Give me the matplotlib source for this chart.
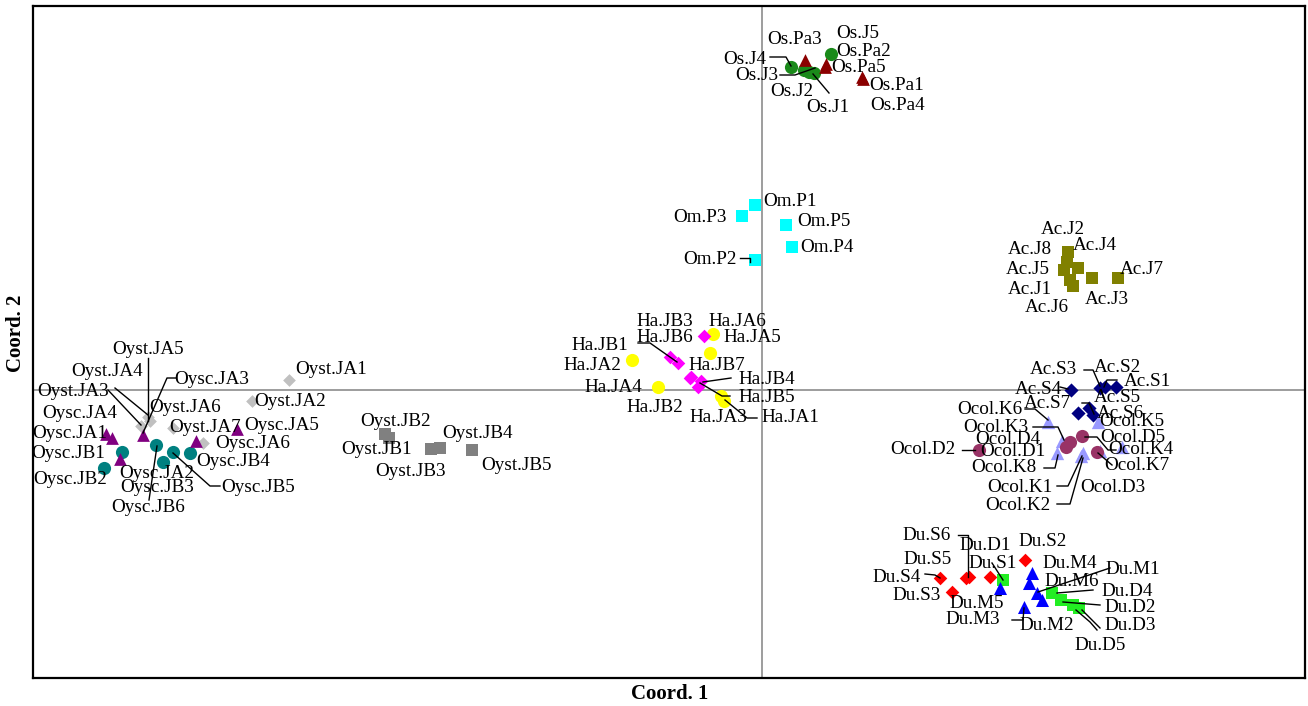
import matplotlib
matplotlib.use("Agg")
import matplotlib.pyplot as plt

# ---------------- data (Coord. 1, Coord. 2) ----------------
os_j_names = ["Os.J1", "Os.J2", "Os.J3", "Os.J4", "Os.J5"]
os_j_x = [0.52, 0.47, 0.42, 0.29, 0.69]
os_j_y = [3.17, 3.18, 3.20, 3.23, 3.36]

os_pa_names = ["Os.Pa1", "Os.Pa2", "Os.Pa3", "Os.Pa4", "Os.Pa5"]
os_pa_x = [1.00, 0.64, 0.43, 1.01, 0.63]
os_pa_y = [3.13, 3.26, 3.30, 3.11, 3.23]

om_p_names = ["Om.P1", "Om.P2", "Om.P3", "Om.P4", "Om.P5"]
om_p_x = [-0.07, -0.07, -0.20, 0.30, 0.24]
om_p_y = [1.85, 1.30, 1.74, 1.43, 1.65]

ac_j_names = ["Ac.J1", "Ac.J2", "Ac.J3", "Ac.J4", "Ac.J5", "Ac.J6", "Ac.J7", "Ac.J8"]
ac_j_x = [3.08, 3.06, 3.30, 3.16, 3.02, 3.11, 3.56, 3.05]
ac_j_y = [1.10, 1.38, 1.12, 1.22, 1.20, 1.04, 1.12, 1.28]

ha_ja_names = ["Ha.JA1", "Ha.JA2", "Ha.JA3", "Ha.JA4", "Ha.JA5", "Ha.JA6"]
ha_ja_x = [-0.38, -1.30, -0.41, -1.04, -0.52, -0.49]
ha_ja_y = [-0.11, 0.30, -0.06, 0.03, 0.37, 0.56]

ha_jb_names = ["Ha.JB1", "Ha.JB2", "Ha.JB3", "Ha.JB4", "Ha.JB5", "Ha.JB6", "Ha.JB7"]
ha_jb_x = [-0.92, -0.72, -0.58, -0.61, -0.64, -0.84, -0.71]
ha_jb_y = [0.33, 0.12, 0.54, 0.09, 0.03, 0.27, 0.13]

oyst_ja_names = ["Oyst.JA1", "Oyst.JA2", "Oyst.JA3", "Oyst.JA4", "Oyst.JA5", "Oyst.JA6", "Oyst.JA7"]
oyst_ja_x = [-4.73, -5.10, -6.21, -6.14, -6.12, -5.89, -5.59]
oyst_ja_y = [0.10, -0.11, -0.36, -0.27, -0.31, -0.38, -0.53]

oysc_ja_names = ["Oysc.JA1", "Oysc.JA2", "Oysc.JA3", "Oysc.JA4", "Oysc.JA5", "Oysc.JA6"]
oysc_ja_x = [-6.50, -6.42, -6.19, -6.56, -5.25, -5.66]
oysc_ja_y = [-0.48, -0.69, -0.45, -0.44, -0.39, -0.51]

oysc_jb_names = ["Oysc.JB1", "Oysc.JB2", "Oysc.JB3", "Oysc.JB4", "Oysc.JB5", "Oysc.JB6"]
oysc_jb_x = [-6.40, -6.58, -5.99, -5.72, -5.89, -6.06]
oysc_jb_y = [-0.62, -0.78, -0.72, -0.63, -0.62, -0.55]

oyst_jb_names = ["Oyst.JB1", "Oyst.JB2", "Oyst.JB3", "Oyst.JB4", "Oyst.JB5"]
oyst_jb_x = [-3.73, -3.77, -3.31, -3.22, -2.90]
oyst_jb_y = [-0.48, -0.44, -0.59, -0.58, -0.60]

ac_s_names = ["Ac.S1", "Ac.S2", "Ac.S3", "Ac.S4", "Ac.S5", "Ac.S6", "Ac.S7"]
ac_s_x = [3.54, 3.43, 3.38, 3.09, 3.27, 3.31, 3.16]
ac_s_y = [0.03, 0.03, 0.02, 0.00, -0.18, -0.25, -0.23]

ocol_k_names = ["Ocol.K1", "Ocol.K2", "Ocol.K3", "Ocol.K4", "Ocol.K5", "Ocol.K6", "Ocol.K7", "Ocol.K8"]
ocol_k_x = [3.21, 3.19, 3.00, 3.60, 3.36, 2.86, 3.38, 2.95]
ocol_k_y = [-0.63, -0.66, -0.51, -0.57, -0.32, -0.32, -0.61, -0.63]

ocol_d_names = ["Ocol.D1", "Ocol.D2", "Ocol.D3", "Ocol.D4", "Ocol.D5"]
ocol_d_x = [3.04, 2.17, 3.35, 3.08, 3.20]
ocol_d_y = [-0.57, -0.60, -0.62, -0.52, -0.46]

du_s_names = ["Du.S1", "Du.S2", "Du.S3", "Du.S4", "Du.S5", "Du.S6"]
du_s_x = [2.28, 2.63, 1.90, 1.78, 2.04, 2.07]
du_s_y = [-1.87, -1.70, -2.02, -1.88, -1.88, -1.87]

du_d_names = ["Du.D1", "Du.D2", "Du.D3", "Du.D4", "Du.D5"]
du_d_x = [2.41, 2.99, 3.11, 2.90, 3.17]
du_d_y = [-1.90, -2.10, -2.15, -2.03, -2.18]

du_m_names = ["Du.M1", "Du.M2", "Du.M3", "Du.M4", "Du.M5", "Du.M6"]
du_m_x = [2.67, 2.80, 2.62, 2.70, 2.38, 2.75]
du_m_y = [-1.93, -2.10, -2.17, -1.83, -1.98, -2.03]

# ---------------- styles ----------------
groups = [
    (oyst_ja_x, oyst_ja_y, "D", "#c0c0c0", 42),
    (oyst_jb_x, oyst_jb_y, "s", "#808080", 74),
    (oysc_jb_x, oysc_jb_y, "o", "#008080", 90),
    (oysc_ja_x, oysc_ja_y, "^", "#800080", 84),
    (os_j_x, os_j_y, "o", "#1a8a1a", 90),
    (os_pa_x, os_pa_y, "^", "#8b0000", 84),
    (om_p_x, om_p_y, "s", "#00ffff", 74),
    (ac_j_x, ac_j_y, "s", "#808000", 80),
    (ha_ja_x, ha_ja_y, "o", "#ffff00", 90),
    (ha_jb_x, ha_jb_y, "D", "#ff00ff", 48),
    (ac_s_x, ac_s_y, "D", "#000080", 52),
    (ocol_k_x, ocol_k_y, "^", "#9999ff", 92),
    (ocol_d_x, ocol_d_y, "o", "#993366", 90),
    (du_s_x, du_s_y, "D", "#ff0000", 48),
    (du_d_x, du_d_y, "s", "#22ee22", 80),
    (du_m_x, du_m_y, "^", "#0000ff", 88),
]

# ---------------- label layout (reference-pixel placement) ----------------
def P(px, py):
    return ((px - 762) / 100.0, (390 - py) / 100.0)

labels = {
    "Os.Pa3": (795, 39, "c", None), "Os.J5": (858, 33, "c", None),
    "Os.Pa2": (864, 51, "c", None),
    "Os.J4": (745, 59, "c", [(770, 57), (786, 57), (791, 66)]),
    "Os.J3": (757, 76, "c", [(780, 75), (795, 75), (815, 68)]),
    "Os.Pa5": (859, 68, "c", None), "Os.Pa1": (897, 86, "c", None),
    "Os.J2": (792, 92, "c", None),
    "Os.J1": (828, 108, "c", [(829, 93), (813, 74)]),
    "Os.Pa4": (898, 105, "c", None),
    "Om.P1": (763, 202, "l", None), "Om.P3": (727, 217, "r", None),
    "Om.P5": (797, 222, "l", None), "Om.P4": (800, 247, "l", None),
    "Om.P2": (737, 259, "r", [(740, 258), (750, 258), (750, 262)]),
    "Ac.J2": (1063, 229, "c", None), "Ac.J8": (1030, 249, "c", None),
    "Ac.J4": (1095, 246, "c", None), "Ac.J5": (1028, 270, "c", None),
    "Ac.J7": (1142, 270, "c", None), "Ac.J1": (1030, 290, "c", None),
    "Ac.J6": (1047, 307, "c", None), "Ac.J3": (1107, 300, "c", None),
    "Ha.JB3": (665, 322, "c", None), "Ha.JA6": (737, 322, "c", None),
    "Ha.JB6": (665, 338, "c", [(638, 343), (650, 343), (677, 362)]),
    "Ha.JA5": (752, 338, "c", None), "Ha.JB1": (600, 346, "c", None),
    "Ha.JA2": (592, 365, "c", None), "Ha.JB7": (717, 366, "c", None),
    "Ha.JB4": (767, 380, "c", [(731, 378), (703, 382)]),
    "Ha.JA4": (613, 388, "c", None),
    "Ha.JB5": (767, 397, "c", [(730, 396), (722, 396), (700, 383)]),
    "Ha.JB2": (655, 408, "c", None), "Ha.JA3": (718, 418, "c", None),
    "Ha.JA1": (790, 418, "c", [(757, 418), (747, 418), (725, 400)]),
    "Oyst.JA5": (148, 349, "c", [(148, 358), (148, 421)]),
    "Oyst.JA4": (107, 372, "c", [(115, 388), (148, 415)]),
    "Oysc.JA3": (212, 379, "c", [(176, 378), (167, 378), (143, 433)]),
    "Oyst.JA3": (73, 392, "c", [(108, 390), (141, 425)]),
    "Oyst.JA6": (185, 407, "c", None), "Oysc.JA4": (80, 413, "c", None),
    "Oyst.JA7": (205, 427, "c", None), "Oysc.JA1": (70, 433, "c", None),
    "Oysc.JB1": (68, 453, "c", None), "Oysc.JA6": (253, 444, "c", None),
    "Oysc.JB4": (233, 462, "c", None), "Oysc.JB2": (70, 480, "c", None),
    "Oysc.JA2": (157, 473, "c", None), "Oysc.JB3": (157, 488, "c", None),
    "Oysc.JB5": (258, 487, "c", [(220, 486), (210, 486), (173, 453)]),
    "Oysc.JB6": (148, 508, "c", [(157, 446), (149, 500)]),
    "Oyst.JA1": (331, 370, "c", None), "Oyst.JA2": (290, 401, "c", None),
    "Oysc.JA5": (282, 425, "c", None),
    "Oyst.JB2": (395, 422, "c", None), "Oyst.JB1": (377, 450, "c", None),
    "Oyst.JB3": (410, 472, "c", None), "Oyst.JB4": (477, 434, "c", None),
    "Oyst.JB5": (517, 465, "c", None),
    "Ac.S3": (1053, 370, "c", [(1084, 370), (1093, 370), (1100, 386)]),
    "Ac.S2": (1117, 367, "c", None),
    "Ac.S1": (1147, 382, "c", [(1117, 380), (1107, 380), (1104, 387)]),
    "Ac.S4": (1038, 389, "c", [(1060, 387), (1068, 389)]),
    "Ac.S7": (1047, 404, "c", [(1082, 403), (1089, 403), (1094, 414)]),
    "Ac.S5": (1117, 398, "c", None), "Ac.S6": (1120, 413, "c", None),
    "Ocol.K6": (990, 410, "c", [(1025, 409), (1035, 409), (1048, 420)]),
    "Ocol.K3": (996, 427, "c", [(1033, 427), (1058, 427), (1064, 440)]),
    "Ocol.D4": (1008, 439, "c", None),
    "Ocol.D2": (923, 450, "c", [(962, 450), (975, 450)]),
    "Ocol.D1": (1013, 451, "c", None),
    "Ocol.K8": (1004, 468, "c", [(1044, 468), (1055, 468), (1058, 455)]),
    "Ocol.K1": (1020, 487, "c", [(1057, 486), (1068, 486), (1082, 456)]),
    "Ocol.K2": (1018, 505, "c", [(1057, 504), (1070, 504), (1083, 458)]),
    "Ocol.D3": (1113, 488, "c", None), "Ocol.K5": (1132, 422, "c", None),
    "Ocol.D5": (1133, 437, "c", None),
    "Ocol.K4": (1141, 450, "c", [(1116, 450), (1108, 450), (1097, 437), (1085, 437)]),
    "Ocol.K7": (1137, 465, "c", [(1112, 465), (1098, 453)]),
    "Du.S6": (927, 535, "c", [(958, 535), (968, 535), (968, 577)]),
    "Du.D1": (985, 545, "c", None), "Du.S2": (1043, 542, "c", None),
    "Du.S5": (928, 559, "c", None),
    "Du.S1": (993, 563, "c", [(992, 563), (1003, 580)]),
    "Du.M4": (1070, 563, "c", None),
    "Du.M1": (1133, 570, "c", [(1110, 568), (1038, 592)]),
    "Du.S4": (897, 577, "c", [(925, 574), (935, 575), (940, 578)]),
    "Du.M6": (1072, 582, "c", None), "Du.S3": (917, 595, "c", None),
    "Du.D4": (1127, 592, "c", [(1093, 590), (1057, 593)]),
    "Du.M5": (977, 603, "c", None),
    "Du.D2": (1130, 607, "c", [(1100, 605), (1063, 602)]),
    "Du.M3": (973, 620, "c", [(1012, 620), (1023, 620), (1024, 608)]),
    "Du.M2": (1047, 625, "c", None),
    "Du.D3": (1130, 625, "c", [(1100, 628), (1082, 610)]),
    "Du.D5": (1100, 645, "c", [(1097, 630), (1090, 622), (1076, 610)]),
}

# ---------------- figure ----------------
plt.rcParams["font.family"] = ["Liberation Serif", "DejaVu Serif"]
fig = plt.figure(figsize=(13.08, 7.06), dpi=100)
ax = fig.add_axes([33 / 1308, 28 / 706, 1272 / 1308, 672 / 706])

ax.set_xlim(-7.29, 5.43)
ax.set_ylim(-2.88, 3.84)
ax.axhline(0, color="#8c8c8c", lw=1.2, zorder=1)
ax.axvline(0, color="#8c8c8c", lw=1.2, zorder=1)

for gx, gy, mk, col, size in groups:
    ax.scatter(gx, gy, marker=mk, s=size, c=col, linewidths=0, zorder=3)

ha_map = {"c": "center", "l": "left", "r": "right"}
for name, (px, py, ha, leader) in labels.items():
    tx, ty = P(px, py)
    ax.text(tx, ty, name, ha=ha_map[ha], va="center", fontsize=13.8,
            color="black", zorder=5)
    if leader:
        xs = [P(a, b)[0] for a, b in leader]
        ys = [P(a, b)[1] for a, b in leader]
        ax.plot(xs, ys, color="black", lw=1.0, zorder=4)

ax.set_xticks([])
ax.set_yticks([])
for sp in ax.spines.values():
    sp.set_linewidth(1.6)
    sp.set_color("black")

fig.text(670 / 1308, 1 - 694 / 706, "Coord. 1", ha="center", va="center",
         fontsize=15, fontweight="bold")
fig.text(16 / 1308, 1 - 333 / 706, "Coord. 2", ha="center", va="center",
         fontsize=15, fontweight="bold", rotation=90)

fig.savefig("out.png", dpi=100)
